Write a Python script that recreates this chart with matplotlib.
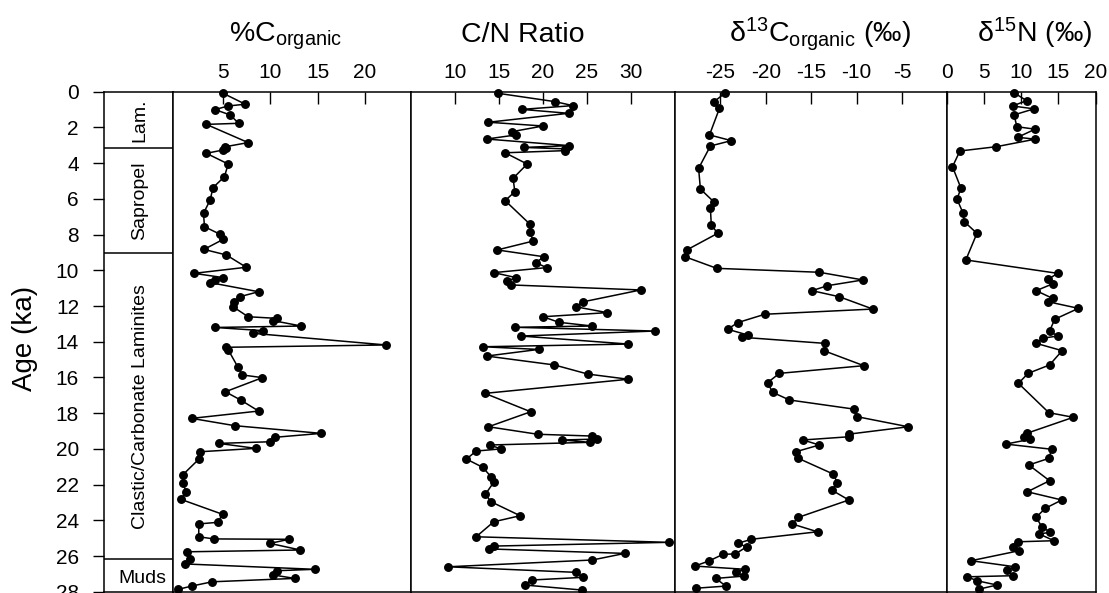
import matplotlib
matplotlib.use("Agg")
import matplotlib.pyplot as plt

plt.rcParams['font.family'] = ['Liberation Sans', 'DejaVu Sans']
plt.rcParams['mathtext.fontset'] = 'custom'
plt.rcParams['mathtext.rm'] = 'Liberation Sans'
plt.rcParams['mathtext.it'] = 'Liberation Sans:italic'
plt.rcParams['mathtext.bf'] = 'Liberation Sans:bold'

# ---------------- data ----------------
corg_age = [0.1, 0.7, 0.8, 1.0, 1.3, 1.77, 1.83, 2.85, 3.08, 3.17, 3.26, 3.45, 4.05, 4.76, 5.37, 6.06,
            6.81, 7.56, 7.97, 8.26, 8.83, 9.14, 9.83, 10.17, 10.41, 10.54, 10.69, 11.2, 11.48, 11.76,
            12.04, 12.6, 12.69, 12.82, 13.12, 13.2, 13.38, 13.53, 14.18, 14.31, 14.45, 15.4, 15.86,
            16.01, 16.8, 17.26, 17.88, 18.29, 18.7, 19.13, 19.35, 19.6, 19.69, 19.97, 20.16, 20.58,
            21.46, 21.93, 22.4, 22.82, 23.66, 24.11, 24.2, 24.92, 25.04, 25.06, 25.29, 25.66, 25.76,
            26.18, 26.44, 26.74, 26.82, 27.06, 27.25, 27.44, 27.68, 27.86]
corg_val = [5.1, 7.4, 5.6, 4.2, 5.8, 6.7, 3.3, 7.7, 5.3, 5.4, 5.1, 3.3, 5.6, 5.2, 4.0, 3.7,
            3.0, 3.1, 4.7, 5.1, 3.05, 5.4, 7.5, 2.0, 5.1, 4.2, 3.7, 8.8, 6.8, 6.25,
            6.1, 7.7, 10.7, 10.35, 13.3, 4.2, 9.3, 8.25, 22.2, 5.4, 5.6, 6.6, 7.1,
            9.2, 5.3, 6.9, 8.8, 1.75, 6.3, 15.4, 10.5, 10.0, 4.6, 8.5, 2.6, 2.5,
            0.8, 0.8, 1.2, 0.6, 5.0, 4.5, 2.5, 2.5, 4.1, 12.0, 10.0, 13.2, 1.3,
            1.6, 1.0, 14.7, 10.7, 10.35, 12.6, 3.9, 1.75, 0.35]

cn_age = [0.09, 0.56, 0.78, 0.99, 1.21, 1.71, 1.92, 2.24, 2.42, 2.65, 3.02, 3.12, 3.2, 3.3, 3.42,
          4.05, 4.85, 5.6, 6.1, 7.41, 7.84, 8.36, 8.86, 9.24, 9.57, 9.85, 10.13, 10.41, 10.6,
          10.82, 11.1, 11.76, 12.04, 12.37, 12.6, 12.91, 13.12, 13.19, 13.4, 13.68, 14.13, 14.28,
          14.43, 14.8, 15.3, 15.81, 16.1, 16.89, 17.92, 18.76, 19.18, 19.28, 19.45, 19.5, 19.63,
          19.78, 20.0, 20.12, 20.57, 21.03, 21.56, 21.87, 22.54, 22.96, 23.74, 24.08, 24.92,
          25.23, 25.44, 25.6, 25.85, 26.22, 26.6, 26.91, 27.19, 27.34, 27.62, 27.9]
cn_val = [14.9, 21.4, 23.4, 17.6, 22.9, 13.8, 20.0, 16.45, 16.95, 13.6, 23.0, 17.8, 22.5, 22.5, 15.7,
          18.2, 16.6, 16.8, 15.7, 18.5, 18.5, 18.9, 14.8, 20.1, 19.2, 20.4, 14.4, 16.95, 15.9,
          16.4, 31.1, 24.6, 23.7, 27.3, 20.0, 21.8, 25.6, 16.8, 32.7, 17.5, 29.7, 13.2,
          19.5, 13.6, 21.3, 25.1, 29.7, 13.4, 18.6, 13.8, 19.4, 25.6, 26.1, 22.2, 25.3,
          14.0, 15.2, 12.4, 11.3, 13.15, 14.1, 14.4, 13.45, 14.1, 17.4, 14.4, 12.4,
          34.3, 14.4, 13.9, 29.3, 25.6, 9.2, 23.7, 24.6, 18.7, 17.9, 24.4]

d13c_age = [0.06, 0.56, 0.93, 2.42, 2.74, 3.04, 4.29, 5.45, 6.18, 6.53, 7.46, 7.93, 8.86, 9.24, 9.89,
            10.11, 10.54, 10.86, 11.14, 11.48, 12.17, 12.46, 12.93, 13.3, 13.62, 13.75, 14.09,
            14.5, 15.34, 15.77, 16.29, 16.83, 17.26, 17.77, 18.2, 18.76, 19.17, 19.32, 19.5,
            19.78, 20.16, 20.53, 21.4, 21.89, 22.3, 22.86, 23.83, 24.2, 24.64, 25.06, 25.29,
            25.48, 25.88, 25.9, 26.26, 26.56, 26.74, 26.91, 27.12, 27.25, 27.68, 27.8]
d13c_val = [-24.45, -25.7, -25.1, -26.2, -23.8, -26.1, -27.4, -27.2, -25.7, -26.1, -26.0, -25.3, -28.7,
            -28.9, -25.4, -14.1, -9.3, -13.2, -14.9, -11.9, -8.2, -20.1, -23.1, -24.2, -22.0, -22.6,
            -13.5, -13.6, -9.2, -18.5, -19.8, -19.25, -17.4, -10.3, -9.9, -4.3, -10.8, -10.85,
            -15.9, -14.1, -16.7, -16.4, -12.6, -12.1, -12.75, -10.85, -16.4, -17.1, -14.3, -21.6,
            -23.1, -22.1, -23.35, -24.7, -26.2, -27.8, -22.3, -23.3, -22.4, -25.5, -24.4, -27.7]

d15n_age = [0.06, 0.5, 0.8, 0.96, 1.3, 1.96, 2.1, 2.55, 2.66, 3.08, 3.32, 4.2, 5.41, 6.01, 6.77, 7.28,
            7.93, 9.42, 10.17, 10.5, 10.76, 11.14, 11.57, 11.76, 12.13, 12.74, 13.4, 13.68, 13.8,
            14.09, 14.5, 15.3, 15.77, 16.33, 17.97, 18.23, 19.13, 19.32, 19.46, 19.73, 20.02,
            20.53, 20.9, 21.78, 22.4, 22.86, 23.33, 23.83, 24.36, 24.67, 24.76, 25.14, 25.2,
            25.51, 25.7, 26.26, 26.6, 26.78, 27.1, 27.16, 27.38, 27.62, 27.85]
d15n_val = [9.0, 10.7, 8.8, 11.7, 9.0, 9.4, 11.85, 9.5, 11.85, 6.6, 1.7, 0.7, 1.85, 1.3, 2.1, 2.3,
            4.0, 2.5, 14.9, 13.6, 14.2, 12.0, 14.2, 13.6, 17.7, 14.5, 13.8, 14.9, 12.9,
            12.0, 15.5, 13.8, 10.9, 9.6, 13.7, 17.0, 10.7, 10.4, 11.2, 7.9, 14.1,
            13.7, 11.0, 13.8, 10.8, 15.45, 13.2, 12.0, 12.75, 13.9, 12.4, 14.4, 9.5,
            8.8, 9.7, 3.2, 9.15, 8.1, 8.8, 2.7, 4.0, 6.7, 4.3]

unit_names = ['Lam.', 'Sapropel', 'Clastic/Carbonate Laminites', 'Muds']
unit_tops = [0.0, 3.17, 9.05, 26.18]
unit_bottoms = [3.17, 9.05, 26.18, 28.0]

age_ticks = list(range(0, 30, 2))
titles = ['%C$_{\\mathrm{organic}}$', 'C/N Ratio',
          'δ$^{13}$C$_{\\mathrm{organic}}$ (‰)', 'δ$^{15}$N (‰)']
xticks_list = [[5, 10, 15, 20], [10, 15, 20, 25, 30],
               [-25, -20, -15, -10, -5], [0, 5, 10, 15, 20]]
xlims = [(-0.18, 24.84), (5.0, 35.0), (-30.0, 0.0), (0.0, 20.0)]

# ---------------- layout (pixels) ----------------
W, H = 1109, 593
fig = plt.figure(figsize=(W / 100, H / 100), dpi=100)
y_top, y_bot = 91.7, 591.8

def add_ax(x0, x1):
    return fig.add_axes([x0 / W, (H - y_bot) / H, (x1 - x0) / W, (y_bot - y_top) / H])

ax_lith = add_ax(104, 173.3)
panel_x = [(173.3, 411.0), (411.0, 675.0), (675.0, 947.3), (947.3, 1095.5)]
axes = [add_ax(a, b) for a, b in panel_x]

lw_spine = 1.1
for ax in [ax_lith] + axes:
    ax.set_ylim(28, 0)
    for s in ax.spines.values():
        s.set_linewidth(lw_spine)

# lithology column
ax_lith.set_xlim(0, 1)
ax_lith.set_xticks([])
ax_lith.set_yticks(age_ticks)
ax_lith.tick_params(axis='y', direction='out', length=8, width=1, pad=10, labelsize=15)
for b in unit_bottoms[:-1]:
    ax_lith.axhline(b, color='black', lw=lw_spine)
for name, t, b in zip(unit_names, unit_tops, unit_bottoms):
    mid = (t + b) / 2
    if name == 'Muds':
        ax_lith.text(0.55, mid + 0.15, name, ha='center', va='center', fontsize=14)
    else:
        ax_lith.text(0.52, mid, name, ha='center', va='center', rotation=90, fontsize=14)
ax_lith.set_ylabel('Age (ka)', fontsize=20)
ax_lith.yaxis.set_label_coords((38 - 104) / (173.3 - 104), (y_bot - 338) / (y_bot - y_top))

series = [(corg_val, corg_age), (cn_val, cn_age), (d13c_val, d13c_age), (d15n_val, d15n_age)]
for ax, (xv, yv), xt, xl in zip(axes, series, xticks_list, xlims):
    ax.plot(xv, yv, '-o', color='black', lw=1.1, ms=5.4, clip_on=False, zorder=3)
    ax.set_xlim(*xl)
    ax.set_yticks([])
    ax.xaxis.set_ticks_position('top')
    ax.set_xticks(xt)
    ax.set_xticklabels([str(v) for v in xt])
    ax.tick_params(axis='x', direction='in', length=8.5, width=1, pad=7, labelsize=15)

# Titles
title_x = [286, 523, 820, 1035]
for t, x in zip(titles, title_x):
    fig.text(x / W, 1 - 42 / H, t, ha='center', va='baseline', fontsize=20.5)

fig.savefig('out.png', dpi=100)
